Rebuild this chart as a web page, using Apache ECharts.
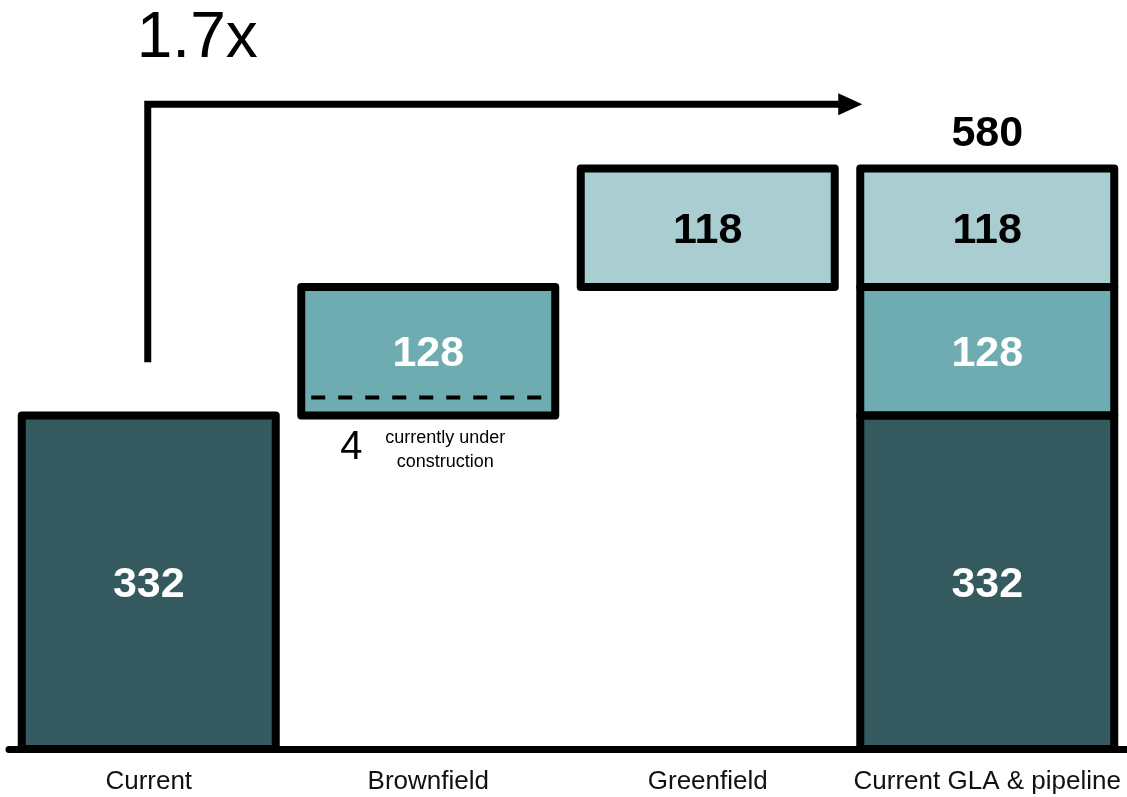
<!DOCTYPE html>
<html>
<head>
<meta charset="utf-8">
<script src="https://cdn.jsdelivr.net/npm/echarts@6/dist/echarts.min.js"></script>
<style>
  html, body { margin: 0; padding: 0; background: #ffffff; }
  #chart { width: 1127px; height: 797px; }
</style>
</head>
<body>
<div id="chart"></div>
<script>
// ---- data ----
const categories = ['Current', 'Brownfield', 'Greenfield', 'Current GLA & pipeline'];
const baseValues = [0, 332, 460, 0];            // invisible waterfall offsets
const currentValues = [332, null, null, 332];
const brownfieldValues = [null, 128, null, 128];
const greenfieldValues = [null, null, 118, 118];
const totalValues = [null, null, null, 580];
const growthLabel = '1.7x';
const arrowRange = [385, 642];                  // value levels of the growth arrow (bottom, top)
const underConstructionValue = '4';
const underConstructionText = 'currently under\nconstruction';
const dashLevel = 350;                          // dashed marker level inside Brownfield bar

// ---- styles ----
const FONT = "'Liberation Sans', Arial, sans-serif";
const DARK = '#345a5f', MID = '#6facb2', LIGHT = '#aacdd1';
const BAR_W = 254;
const barLabel = (c) => ({ show: true, position: 'inside', offset: [0, 3], color: c, fontSize: 43, fontWeight: 'bold', fontFamily: FONT });

// segments for outlines, derived from the series arrays
const stackArrays = [currentValues, brownfieldValues, greenfieldValues];
const segments = [];
categories.forEach((c, i) => {
  let s = baseValues[i];
  stackArrays.forEach((arr) => {
    if (arr[i] != null) { segments.push([i, s, s + arr[i]]); s += arr[i]; }
  });
});
const totalData = totalValues.map((v, i) => (v == null ? null : [i, v])).filter(Boolean);

const chart = echarts.init(document.getElementById('chart'), null, { renderer: 'canvas' });

const option = {
  animation: false,
  backgroundColor: '#ffffff',
  grid: { left: 9, right: 0, top: 46, bottom: 48 },
  xAxis: {
    type: 'category',
    data: categories,
    axisLine: { show: true, lineStyle: { color: '#000', width: 7 } },
    axisTick: { show: false },
    axisLabel: { interval: 0, fontSize: 26, color: '#111', fontFamily: FONT, margin: 20 },
    splitLine: { show: false }
  },
  yAxis: { type: 'value', min: 0, max: 700, show: false, splitLine: { show: false } },
  series: [
    {
      name: 'base', type: 'bar', stack: 'w', barWidth: BAR_W, data: baseValues,
      itemStyle: { color: 'rgba(0,0,0,0)', borderWidth: 0 }, silent: true
    },
    {
      name: 'Current', type: 'bar', stack: 'w', barWidth: BAR_W, data: currentValues,
      itemStyle: { color: DARK }, label: barLabel('#ffffff')
    },
    {
      name: 'Brownfield', type: 'bar', stack: 'w', barWidth: BAR_W, data: brownfieldValues,
      itemStyle: { color: MID }, label: barLabel('#ffffff')
    },
    {
      name: 'Greenfield', type: 'bar', stack: 'w', barWidth: BAR_W, data: greenfieldValues,
      itemStyle: { color: LIGHT }, label: barLabel('#000000')
    },
    {
      name: 'outline', type: 'custom', clip: false, z: 4, silent: true,
      data: segments,
      renderItem: function (params, api) {
        const p0 = api.coord([api.value(0), api.value(1)]);
        const p1 = api.coord([api.value(0), api.value(2)]);
        return {
          type: 'rect',
          shape: { x: p0[0] - BAR_W / 2, y: p1[1], width: BAR_W, height: p0[1] - p1[1] },
          style: { stroke: '#000', lineWidth: 8, fill: null, lineJoin: 'round' }
        };
      }
    },
    {
      name: 'total', type: 'custom', clip: false, z: 5, silent: true,
      data: totalData,
      renderItem: function (params, api) {
        const p = api.coord([api.value(0), api.value(1)]);
        return {
          type: 'text',
          style: { x: p[0], y: p[1] - 32, text: String(api.value(1)), fill: '#000',
                   font: "bold 43px " + FONT, textAlign: 'center', textVerticalAlign: 'middle' }
        };
      }
    },
    {
      name: 'dash', type: 'custom', clip: false, z: 6, silent: true,
      data: [[1, baseValues[1], dashLevel]],
      renderItem: function (params, api) {
        const c = api.coord([api.value(0), api.value(2)]);
        const b = api.coord([api.value(0), api.value(1)]);
        return {
          type: 'group',
          children: [
            { type: 'line', shape: { x1: c[0] - 117, y1: c[1], x2: c[0] + 124, y2: c[1] },
              style: { stroke: '#000', lineWidth: 4, lineDash: [14, 13] } },
            { type: 'text', style: { x: b[0] - 77, y: b[1] + 32, text: underConstructionValue, fill: '#000',
              font: "40px " + FONT, textAlign: 'center', textVerticalAlign: 'middle' } },
            { type: 'text', style: { x: b[0] + 17, y: b[1] + 34, text: underConstructionText, fill: '#000',
              font: "18px " + FONT, lineHeight: 24, textAlign: 'center', textVerticalAlign: 'middle' } }
          ]
        };
      }
    },
    {
      name: 'arrow', type: 'custom', clip: false, z: 6, silent: true,
      data: [[0, arrowRange[0], arrowRange[1], 3]],
      renderItem: function (params, api) {
        const p0 = api.coord([api.value(0), api.value(1)]);
        const p1 = api.coord([api.value(0), api.value(2)]);
        const tgt = api.coord([api.value(3), 0]);
        const tipX = tgt[0] - 125;
        const x0 = p0[0] - 1, yB = p0[1], yT = p1[1];
        return {
          type: 'group',
          children: [
            { type: 'polyline', shape: { points: [[x0, yB], [x0, yT], [tipX - 20, yT]] },
              style: { stroke: '#000', lineWidth: 7, fill: null, lineJoin: 'miter', lineCap: 'butt' } },
            { type: 'polygon', shape: { points: [[tipX - 24, yT - 11], [tipX, yT], [tipX - 24, yT + 11]] },
              style: { fill: '#000' } },
            { type: 'text', style: { x: x0 - 11, y: yT - 65, text: growthLabel, fill: '#000',
              font: "64px " + FONT, textAlign: 'left', textVerticalAlign: 'middle' } }
          ]
        };
      }
    }
  ]
};
chart.setOption(option);
</script>
</body>
</html>
